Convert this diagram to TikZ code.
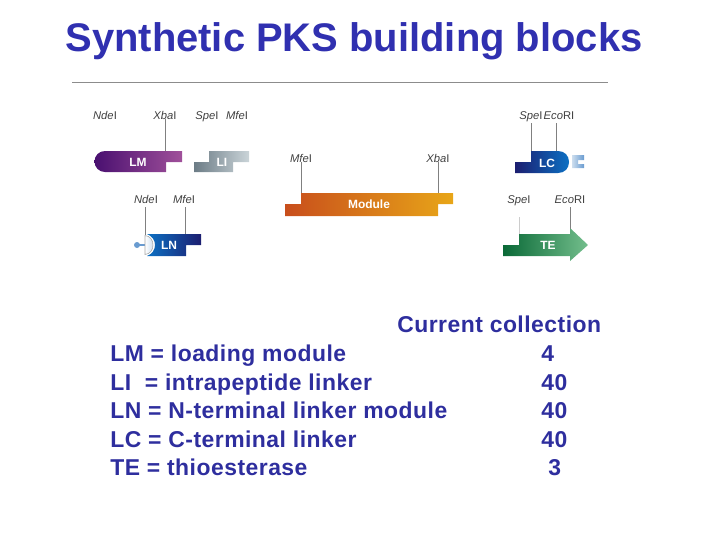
\documentclass[tikz,border=0pt]{standalone}
\usepackage{fontspec}
\setmainfont{Liberation Sans}
\newfontfamily\keyfont[LetterSpace=2.1]{Liberation Sans}
\usetikzlibrary{positioning}
\definecolor{pkspurple}{RGB}{74,16,112}
\definecolor{pksorchid}{RGB}{160,80,154}
\definecolor{pksslate}{RGB}{108,124,134}
\definecolor{pksmist}{RGB}{202,212,216}
\definecolor{pksnavy}{RGB}{28,30,112}
\definecolor{pksblue}{RGB}{12,112,195}
\definecolor{pksleaf}{RGB}{10,105,55}
\definecolor{pksmint}{RGB}{115,190,140}
\definecolor{pksrust}{RGB}{200,78,28}
\definecolor{pksamber}{RGB}{232,166,24}
\definecolor{pkstitle}{RGB}{48,48,176}
\definecolor{pkstext}{RGB}{46,46,158}
\definecolor{pkspale}{RGB}{205,222,238}
\definecolor{pkssky}{RGB}{105,155,208}

\begin{document}
\begin{tikzpicture}[
      x=0.025cm, y=-0.025cm,
      sitelabel/.style={font=\fontsize{8}{9}\selectfont, text=black!75, inner sep=0pt, anchor=base},
      siteline/.style={draw=black!50, line width=0.5pt},
      blocklabel/.style={font=\fontsize{8.5}{9}\selectfont\bfseries, text=white, inner sep=0pt},
      keyline/.style={font=\keyfont\fontsize{16.3}{18}\selectfont\bfseries, text=pkstext, anchor=base west, inner sep=0pt}
    ]
      \useasboundingbox (0,0) rectangle (720,540);

      % Title and rule
      \node[font=\fontsize{28.4}{30}\selectfont\bfseries, text=pkstitle, inner sep=0pt] (title) at (354, 41) {Synthetic PKS building blocks};
      \coordinate (ruleL) at (72, 82);
      \coordinate (ruleR) at (608, 82);
      \draw[draw=black!45, line width=0.5pt] (ruleL) -- (ruleR);

      % LM block
      \path[left color=pkspurple, right color=pksorchid] (105,151) -- (182,151) -- (182,162) -- (166,162) -- (166,172) -- (105,172) .. controls (99,172) and (94.5,167.3) .. (94.5,161.5) .. controls (94.5,155.7) and (99,151) .. (105,151) -- cycle;
      \node[blocklabel] (lm) at (138, 162) {LM};
      \node[sitelabel] (ndeA) at (105, 119) {\textit{Nde}I};
      \node[sitelabel] (xbaA) at (165, 119) {\textit{Xba}I};
      \coordinate (xbaAend) at (165, 151);
      \draw[siteline] (xbaA) -- (xbaAend);

      % LI block
      \path[left color=pksslate, right color=pksmist] (209,151) -- (249,151) -- (249,162) -- (233,162) -- (233,172) -- (194,172) -- (194,162) -- (209,162) -- cycle;
      \node[blocklabel] (li) at (222, 162) {LI};
      \node[sitelabel] (speA) at (207, 119) {\textit{Spe}I};
      \node[sitelabel] (mfeA) at (237, 119) {\textit{Mfe}I};

      % LN block
      \path[left color=pksblue, right color=pksnavy] (147,234) -- (201,234) -- (201,245) -- (186,245) -- (186,256) -- (147,256) .. controls (152,254) and (155,250) .. (155,245) .. controls (155,240) and (152,236) .. (147,234) -- cycle;
      \draw[draw=pkssky, line width=1.2pt] (137,245) -- (145,245);
      \path[left color=white, right color=pkspale, draw=black!35, line width=0.4pt] (145,235.5) .. controls (150,236) and (153,240) .. (153,245) .. controls (153,250) and (150,254) .. (145,254.5) -- cycle;
      \fill[pkssky] (137,245) circle (3);
      \node[blocklabel] (ln) at (169, 245) {LN};
      \node[sitelabel] (ndeB) at (146, 203) {\textit{Nde}I};
      \node[sitelabel] (mfeB) at (184, 203) {\textit{Mfe}I};
      \coordinate (ndeBtop) at (145, 207);
      \coordinate (mfeBtop) at (185, 207);
      \coordinate (ndeBend) at (145, 235);
      \coordinate (mfeBend) at (185, 234);
      \draw[siteline] (ndeBtop) -- (ndeBend);
      \draw[siteline] (mfeBtop) -- (mfeBend);

      % Module block
      \path[left color=pksrust, right color=pksamber] (301,193) -- (453,193) -- (453,204) -- (438,204) -- (438,216) -- (285,216) -- (285,204) -- (301,204) -- cycle;
      \node[blocklabel] (module) at (369, 204) {Module};
      \node[sitelabel] (mfeC) at (301, 162) {\textit{Mfe}I};
      \node[sitelabel] (xbaC) at (438, 162) {\textit{Xba}I};
      \coordinate (mfeCend) at (301, 193);
      \coordinate (xbaCend) at (438, 193);
      \draw[siteline] (mfeC) -- (mfeCend);
      \draw[siteline] (xbaC) -- (xbaCend);

      % LC block
      \path[left color=pksnavy, right color=pksblue] (531,151) -- (558,151) .. controls (565,151) and (569,156) .. (569,162) .. controls (569,168) and (565,173) .. (558,173) -- (515,173) -- (515,162) -- (531,162) -- cycle;
      \node[blocklabel] (lc) at (547, 163) {LC};
      \path[left color=pkspale, right color=pkssky] (572,155) -- (584,155) -- (584,160) -- (578,160) -- (578,164) -- (584,164) -- (584,168) -- (572,168) -- cycle;
      \node[sitelabel] (speD) at (531, 119) {\textit{Spe}I};
      \node[sitelabel] (ecoD) at (559, 119) {\textit{Eco}RI};
      \coordinate (speDtop) at (531, 123);
      \coordinate (ecoDtop) at (556, 123);
      \coordinate (speDend) at (531, 151);
      \coordinate (ecoDend) at (556, 151);
      \draw[siteline] (speDtop) -- (speDend);
      \draw[siteline] (ecoDtop) -- (ecoDend);

      % TE block
      \path[left color=pksleaf, right color=pksmint] (519,234) -- (570,234) -- (570,228) -- (588,245) -- (570,261) -- (570,256) -- (503,256) -- (503,245) -- (519,245) -- cycle;
      \node[blocklabel] (te) at (548, 245) {TE};
      \node[sitelabel] (speE) at (519, 203) {\textit{Spe}I};
      \node[sitelabel] (ecoE) at (570, 203) {\textit{Eco}RI};
      \coordinate (speEtop) at (519, 217);
      \coordinate (ecoEtop) at (570, 207);
      \coordinate (speEend) at (519, 234);
      \coordinate (ecoEend) at (570, 229);
      \draw[draw=black!20, line width=0.5pt] (speEtop) -- (speEend);
      \draw[siteline] (ecoEtop) -- (ecoEend);

      % Key
      \node[keyline] (head) at (397, 332) {Current collection};
      \node[keyline] (keyLM) at (110, 361) {LM = loading module};
      \node[keyline] (keyLI) at (110, 390) {LI\ \ = intrapeptide linker};
      \node[keyline] (keyLN) at (110, 418) {LN = N-terminal linker module};
      \node[keyline] (keyLC) at (110, 447) {LC = C-terminal linker};
      \node[keyline] (keyTE) at (110, 475) {TE = thioesterase};
      \node[keyline] (numLM) at (541, 361) {4};
      \node[keyline] (numLI) at (541, 390) {40};
      \node[keyline] (numLN) at (541, 418) {40};
      \node[keyline] (numLC) at (541, 447) {40};
      \node[keyline] (numTE) at (548, 475) {3};
    \end{tikzpicture}
\end{document}
